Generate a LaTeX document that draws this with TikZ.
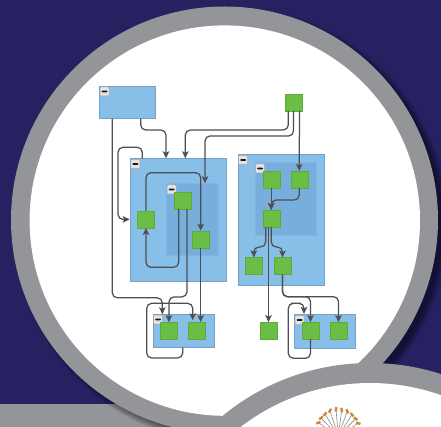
\documentclass[tikz,border=0pt]{standalone}
\usetikzlibrary{arrows.meta}
\definecolor{navy}{HTML}{262262}
\definecolor{ringgray}{HTML}{939598}
\definecolor{boxblue}{HTML}{88BFE9}
\definecolor{innerblue}{HTML}{78AEDC}
\definecolor{leaf}{HTML}{6ABD45}
\definecolor{wire}{HTML}{4F4F52}
\definecolor{fanbrown}{HTML}{C98B3B}
\tikzset{
  outerbox/.style={fill=boxblue,draw=boxblue!85!black,line width=.3pt,inner sep=0,outer sep=0},
  innerbox/.style={fill=innerblue,draw=innerblue!60!boxblue,line width=.4pt,inner sep=0,outer sep=0},
  leafbox/.style={fill=leaf,draw=leaf!90!black,line width=.3pt,inner sep=0,outer sep=0,minimum width=17pt,minimum height=17pt},
  minusbtn/.style={fill=black!10,draw=black!35,line width=.5pt,inner sep=0,outer sep=0,minimum width=9pt,minimum height=9pt,rounded corners=.8pt,
    path picture={\fill[black!90] ([xshift=-3pt,yshift=-.8pt]path picture bounding box.center) rectangle ([xshift=3pt,yshift=.8pt]path picture bounding box.center);}},
  wireline/.style={draw=wire,line width=1.25pt,rounded corners=5pt},
  wirearrow/.style={wireline,-{Stealth[length=7pt,width=6.5pt,inset=1.5pt]}},
  spoke/.style={draw=black!45,line width=.6pt},
  fantip/.style={fill=fanbrown,draw=none,inner sep=0,minimum width=4.5pt,minimum height=2.4pt}
}
\begin{document}
\begin{tikzpicture}[x=1pt,y=-1pt]
\useasboundingbox (0,0) rectangle (441,427);
\clip (0,0) rectangle (441,427);
% backdrop
\fill[navy] (0,0) rectangle (441,427);
\fill[ringgray] (0,404) rectangle (441,427);
% soft shadow of the big disc
\foreach \r in {218,217,216,215,214,213,212,211}{
  \fill[black,opacity=.07] (230.5,225) circle[radius=\r];
}
% big disc
\fill[ringgray] (224.5,220) circle[radius=213.5];
\fill[white] (224.8,220.6) circle[radius=195.2];
% lower disc
\fill[ringgray] (370,595) circle[radius=232];
\fill[white] (370,595) circle[radius=212];
% fan
\coordinate (fanhub) at (338.3,436);
\foreach \x/\y/\a in {318.3/422.7/20,321/418/35,325/414/48,330/410.7/62,336/409.3/82,341.7/410/98,347.3/411.3/115,352/414.7/132,355.7/418.7/148,358.3/423.3/160}{
  \draw[spoke] (fanhub) -- (\x,\y);
  \node[fantip,rotate=\a] at (\x,\y) {};
}
% containers
\node[outerbox,minimum width=55.4pt,minimum height=32.7pt] (src) at (127,102.3) {};
\node[outerbox,minimum width=96pt,minimum height=122.4pt] (groupA) at (177.7,219.5) {};
\node[innerbox,minimum width=52pt,minimum height=72.4pt] (innerA) at (192,219.5) {};
\node[outerbox,minimum width=61pt,minimum height=33pt] (botA) at (183.2,330.8) {};
\node[outerbox,minimum width=86.6pt,minimum height=130.4pt] (groupB) at (281,219.5) {};
\node[innerbox,minimum width=60.7pt,minimum height=73.4pt] (innerB) at (285.4,199) {};
\node[outerbox,minimum width=61pt,minimum height=33.7pt] (botB) at (324.5,330.8) {};
% collapse buttons
\node[minusbtn] (b1) at (104.5,91.5) {};
\node[minusbtn] (b2) at (135.3,164) {};
\node[minusbtn] (b3) at (171.5,189.5) {};
\node[minusbtn] (b4) at (158,319.5) {};
\node[minusbtn] (b5) at (243,160) {};
\node[minusbtn] (b6) at (260,168.5) {};
\node[minusbtn] (b7) at (299.5,320) {};
% leaves
\node[leafbox] (top) at (293.5,102.2) {};
\node[leafbox] (a) at (146,219.4) {};
\node[leafbox] (b) at (182.4,200.4) {};
\node[leafbox] (c) at (200.7,239.2) {};
\node[leafbox] (d) at (169,330.7) {};
\node[leafbox] (e) at (197,330.7) {};
\node[leafbox] (f) at (271.2,179.5) {};
\node[leafbox] (g) at (299.2,179.5) {};
\node[leafbox] (h) at (271.2,218.5) {};
\node[leafbox] (i) at (253.8,266) {};
\node[leafbox] (j) at (282.5,266) {};
\node[leafbox] (k) at (268.5,330.7) {};
\node[leafbox] (l) at (310.5,330.7) {};
\node[leafbox] (m) at (338.5,330.7) {};
% connectors
\draw[wirearrow] ([xshift=13.7pt]src.south) |- (150,130) -| ([xshift=-11.7pt]groupA.north);
\draw[wirearrow] ([xshift=-5.2pt]top.south) |- (240,130) -| ([xshift=7.6pt]groupA.north);
\draw[wirearrow] (top.south) |- (250,136) -| ([xshift=13pt]innerA.north);
\draw[wirearrow] ([xshift=6pt]top.south) -- (g.north);
\draw[wirearrow] ([xshift=-35.4pt]groupA.north) |- (118,147.3) |- (groupA.west |- a.west);
\draw[wirearrow] (a.north) |- (175,172.7) -| (c.north);
\draw[wirearrow] ([xshift=-3.7pt]b.south) |- (160,267.3) -| (a.south);
\draw[wirearrow] ([xshift=4.6pt]b.south) |- ([yshift=25.3pt]d.north) -- (d.north);
\draw[wirearrow] (c.south) -- ([xshift=3.7pt]e.north);
\draw[wirearrow] ([xshift=-14.7pt]src.south) |- ([yshift=16.5pt]botA.north -| 162.3,0) -- ([xshift=-20.9pt]botA.north);
\draw[wirearrow] ([xshift=-.5pt]botA.south) |- (146.7,358) |- (170,303.3) -| ([xshift=9.5pt,yshift=-6pt]botA.north);
\draw[wirearrow] (f.south) -- (h.north);
\draw[wirearrow] (g.south) |- (285,200) -| (h.north);
\draw[wirearrow] ([xshift=-5.5pt]h.south) |- ([yshift=10.5pt]i.north) -- (i.north);
\draw[wirearrow] (h.south) |- ([yshift=10.5pt]j.north) -- (j.north);
\draw[wirearrow] ([xshift=-2.7pt]h.south) -- (k.north);
\draw[wirearrow] (j.south) |- (320,296.7) -| (m.north);
\draw[wirearrow] (j.south) |- (300,296.7) -| (l.north);
\draw[wirearrow] (l.south) |- (288.3,358.3) |- (296,303.3) -| ([xshift=-20.5pt]botB.north);
\end{tikzpicture}
\end{document}
